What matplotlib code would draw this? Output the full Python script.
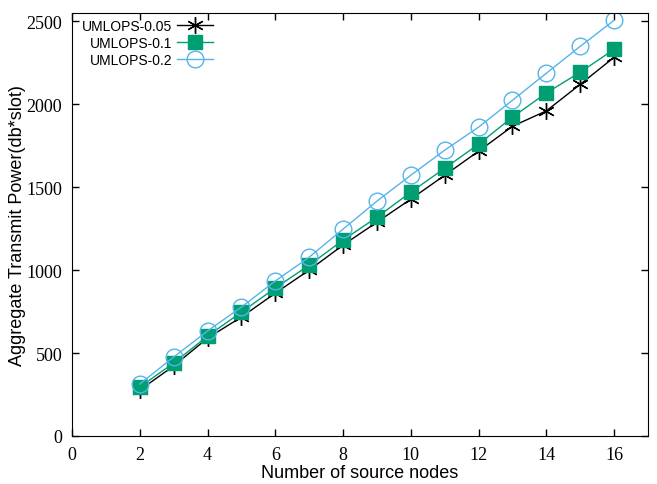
import matplotlib
matplotlib.use("Agg")
import matplotlib.pyplot as plt

# number of source nodes
nodes = [2, 3, 4, 5, 6, 7, 8, 9, 10, 11, 12, 13, 14, 15, 16]

# aggregate transmit power
umlops_005 = [277, 422, 590, 717, 861, 1000, 1151, 1289, 1428, 1572, 1717, 1867, 1960, 2120, 2283]
umlops_01 = [295, 440, 602, 747, 892, 1030, 1181, 1319, 1470, 1614, 1759, 1922, 2068, 2193, 2331]
umlops_02 = [313, 476, 633, 777, 934, 1078, 1247, 1416, 1572, 1723, 1862, 2024, 2187, 2349, 2506]

xticks = [0, 2, 4, 6, 8, 10, 12, 14, 16]
yticks = [0, 500, 1000, 1500, 2000, 2500]

fig = plt.figure(figsize=(6.57, 4.85), dpi=100)
ax = fig.add_axes([72/657, 1-437/485, (648-72)/657, (437-14)/485])

ax.plot(nodes, umlops_005, color="black", lw=1, marker=(6, 2, 0), ms=12,
        mew=1, label="UMLOPS-0.05")
ax.plot(nodes, umlops_01, color="#009e73", lw=1, marker="s", ms=9.5,
        label="UMLOPS-0.1")
ax.plot(nodes, umlops_02, color="#56b4e9", lw=1, marker="o", ms=12,
        mfc="none", mew=1, label="UMLOPS-0.2")

ax.set_xlim(0, 17)
ax.set_ylim(0, 2550)
ax.set_xticks(xticks)
ax.set_yticks(yticks)
ax.tick_params(direction="in", top=True, right=True, length=5, width=1, pad=7)
for lab in ax.get_xticklabels() + ax.get_yticklabels():
    lab.set_family("Liberation Serif")
    lab.set_fontsize(13)

ax.set_xlabel("Number of source nodes", family="Liberation Sans", fontsize=13, labelpad=1)
ax.set_ylabel("Aggregate Transmit Power(db*slot)", family="Liberation Sans", fontsize=13, labelpad=0)

leg = ax.legend(loc="upper left", frameon=False, markerfirst=False,
                prop={"family": "Liberation Sans", "size": 10},
                handlelength=2.6, borderaxespad=0, labelspacing=0.22,
                handletextpad=0.35, bbox_to_anchor=(0.008, 1.0))
# gnuplot style: labels right-aligned against the samples
for col in leg._legend_handle_box.get_children():
    col.align = "right"

fig.savefig("out.png", dpi=100)
